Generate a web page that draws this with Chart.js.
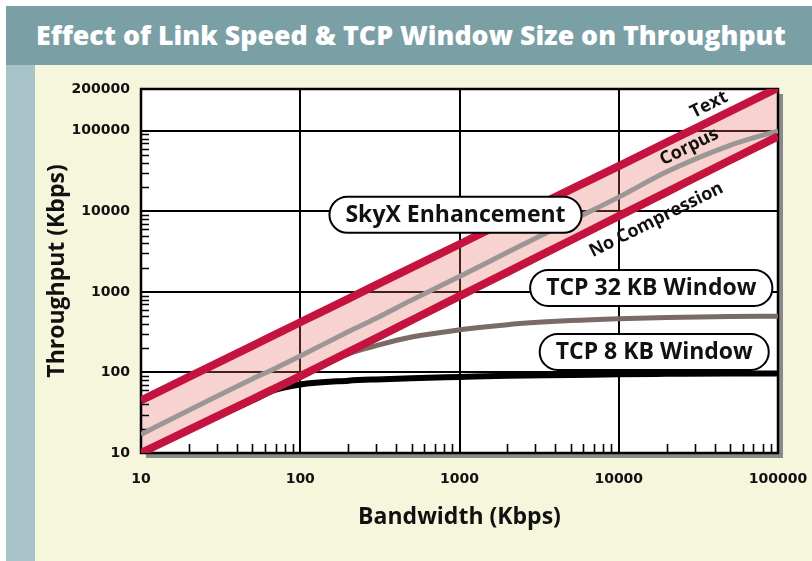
<!DOCTYPE html>
<html>
<head>
<meta charset="utf-8">
<script src="https://cdn.jsdelivr.net/npm/chart.js@4.4.0/dist/chart.umd.min.js"></script>
<style>
  html, body { margin: 0; padding: 0; background: #fff; }
  #page { position: relative; width: 812px; height: 561px; overflow: hidden; background: #fff; }
  #band { position: absolute; left: 6px; top: 6px; right: 0; height: 59px; background: #7aa0a6; }
  #strip { position: absolute; left: 6px; top: 65px; width: 29px; bottom: 0; background: #a7c3c8; }
  #cream { position: absolute; left: 35px; top: 65px; right: 0; bottom: 0; background: #f5f6dc; }
  #title { position: absolute; left: 36px; top: 22px; font: 800 26px 'Open Sans'; line-height: 26px;
           color: #fff; white-space: nowrap; transform-origin: 0 0; }
  canvas { position: absolute; left: 0; top: 0; }
</style>
</head>
<body>
<div id="page">
  <div id="band"></div>
  <div id="strip"></div>
  <div id="cream"></div>
  <div id="title">Effect of Link Speed &amp; TCP Window Size on Throughput</div>
  <canvas id="myChart" width="812" height="561"></canvas>
</div>
<script>
// Bandwidth (Kbps) and throughput (Kbps)
var bandwidth = [10, 20, 50, 70, 100, 200, 300, 500, 1000, 2000, 5000, 10000, 20000, 50000, 100000];
var textComp = [45, 88, 214, 297, 420, 820, 1220, 2000, 3900, 7700, 18700, 36500, 71600, 174000, 341000];
var noComp = [10, 19.4, 46.4, 64, 90, 179, 268, 445, 885, 1760, 4380, 8720, 17350, 43100, 85000];
var corpus = [17, 34, 83, 113, 160, 320, 472, 790, 1550, 3100, 7600, 15000, 31000, 66000, 100000];
var tcp32 = [10, 19.4, 46, 63, 88, 170, 215, 275, 338, 392, 440, 465, 482, 495, 500];
var tcp8 = [10, 19.4, 45, 61, 71, 79, 82, 85, 88, 91, 93, 95, 96, 97, 97];

// axes
var xTicks = [10, 100, 1000, 10000, 100000];
var yTicks = [10, 100, 1000, 10000, 100000];
var yTopLabel = '200000';   // label printed on the top edge of the frame
var yMax = 330000;          // where the frame top sits on the log scale

// callouts and line labels
var callouts = ['SkyX Enhancement', 'TCP 32 KB Window', 'TCP 8 KB Window'];
var calloutAt = [[944, 9060], [16000, 1120], [16700, 180]];
var lineLabels = ['Text', 'Corpus', 'No Compression'];
var lineLabelAt = [[36900, 210000], [27700, 63000], [17200, 7830]];

// title squeezed to the width of the original condensed face
var title = document.getElementById('title');
title.style.transform = 'scaleX(' + (750 / title.offsetWidth) + ')';

function pts(ys) {
    return bandwidth.map(function(b, i) { return {x: b, y: ys[i]}; });
}

var red = '#c4133f';
var tickFont = {family: 'DejaVu Sans', size: 14, weight: 'bold'};
var axisFont = {family: 'Open Sans', size: 23, weight: 'bold'};
var labelFont = 'bold 23px "Open Sans"';

var decor = {
    id: 'decor',
    beforeDraw: function(chart) {
        var ctx = chart.ctx, a = chart.chartArea;
        ctx.save();
        ctx.fillStyle = '#8a8a8a';
        ctx.fillRect(a.left + 5, a.top + 5, a.right - a.left, a.bottom - a.top);
        ctx.fillStyle = '#fff';
        ctx.fillRect(a.left, a.top, a.right - a.left, a.bottom - a.top);
        ctx.restore();
    },
    beforeDatasetsDraw: function(chart) {
        var ctx = chart.ctx, a = chart.chartArea, x = chart.scales.x, y = chart.scales.y;
        ctx.save();
        ctx.strokeStyle = '#000';
        ctx.lineWidth = 1.6;
        ctx.beginPath();
        for (var d = 10; d < 100000; d *= 10) {
            for (var m = 2; m <= 9; m++) {
                var px = Math.round(x.getPixelForValue(d * m)) + 0.5;
                ctx.moveTo(px, a.bottom);
                ctx.lineTo(px, a.bottom - 9);
                var py = Math.round(y.getPixelForValue(d * m)) + 0.5;
                ctx.moveTo(a.left, py);
                ctx.lineTo(a.left + 8, py);
            }
        }
        ctx.stroke();
        ctx.lineWidth = 2.5;
        ctx.strokeRect(a.left, a.top, a.right - a.left, a.bottom - a.top);
        ctx.restore();
    },
    afterDatasetsDraw: function(chart) {
        var ctx = chart.ctx, x = chart.scales.x, y = chart.scales.y;
        ctx.save();
        ctx.font = labelFont;
        ctx.textAlign = 'center';
        ctx.textBaseline = 'middle';
        callouts.forEach(function(t, i) {
            var cx = x.getPixelForValue(calloutAt[i][0]);
            var cy = y.getPixelForValue(calloutAt[i][1]);
            var w = ctx.measureText(t).width + 32, h = 36;
            ctx.beginPath();
            ctx.roundRect(cx - w / 2, cy - h / 2, w, h, h / 2);
            ctx.fillStyle = '#fff';
            ctx.fill();
            ctx.lineWidth = 2;
            ctx.strokeStyle = '#000';
            ctx.stroke();
            ctx.fillStyle = '#111';
            ctx.fillText(t, cx, cy + 1);
        });
        ctx.font = 'bold 18px "Open Sans"';
        lineLabels.forEach(function(t, i) {
            ctx.save();
            ctx.translate(x.getPixelForValue(lineLabelAt[i][0]), y.getPixelForValue(lineLabelAt[i][1]));
            ctx.rotate(-26.5 * Math.PI / 180);
            ctx.fillStyle = '#111';
            ctx.fillText(t, 0, 0);
            ctx.restore();
        });
        ctx.restore();
    }
};

var ctx = document.getElementById('myChart').getContext('2d');
var myChart = new Chart(ctx, {
    type: 'line',
    data: {
        datasets: [
            {label: 'Text', data: pts(textComp), borderColor: red, borderWidth: 8,
             fill: 1, backgroundColor: 'rgba(232, 105, 95, 0.3)'},
            {label: 'No Compression', data: pts(noComp), borderColor: red, borderWidth: 8, fill: false},
            {label: 'Corpus', data: pts(corpus), borderColor: '#9b9797', borderWidth: 5, fill: false},
            {label: 'TCP 32 KB Window', data: pts(tcp32), borderColor: '#7a6b66', borderWidth: 5, fill: false},
            {label: 'TCP 8 KB Window', data: pts(tcp8), borderColor: '#000', borderWidth: 6, fill: false}
        ]
    },
    options: {
        responsive: false,
        animation: false,
        devicePixelRatio: 1,
        layout: {padding: {left: 0, right: 34, top: 89, bottom: 0}},
        elements: {
            point: {radius: 0},
            line: {cubicInterpolationMode: 'monotone', borderCapStyle: 'butt'}
        },
        plugins: {
            legend: {display: false},
            tooltip: {enabled: false},
            filler: {drawTime: 'beforeDatasetsDraw'}
        },
        scales: {
            x: {
                type: 'logarithmic',
                min: 10,
                max: 100000,
                bounds: 'data',
                afterBuildTicks: function(s) {
                    s.ticks = xTicks.map(function(v) { return {value: v}; });
                },
                afterFit: function(s) {
                    s.height = 108;
                    s.paddingLeft = 0;
                    s.paddingRight = 0;
                },
                ticks: {
                    font: tickFont, color: '#111', padding: 18, maxRotation: 0,
                    callback: function(v) { return String(v); }
                },
                grid: {color: '#000', lineWidth: 2, drawTicks: false},
                border: {display: false},
                title: {
                    display: true, text: 'Bandwidth (Kbps)', color: '#111', font: axisFont,
                    padding: {top: 0, bottom: 30}
                }
            },
            y: {
                type: 'logarithmic',
                min: 10,
                max: yMax,
                bounds: 'data',
                afterBuildTicks: function(s) {
                    s.ticks = yTicks.map(function(v) { return {value: v}; });
                    s.ticks.push({value: yMax});
                },
                afterFit: function(s) {
                    s.width = 141;
                    s.paddingTop = 0;
                    s.paddingBottom = 0;
                },
                ticks: {
                    font: tickFont, color: '#111', padding: 11,
                    callback: function(v, i) { return i === yTicks.length ? yTopLabel : String(v); }
                },
                grid: {color: '#000', lineWidth: 2, drawTicks: false},
                border: {display: false},
                title: {
                    display: true, text: 'Throughput (Kbps)', color: '#111', font: axisFont,
                    padding: {top: 44, bottom: 0}
                }
            }
        }
    },
    plugins: [decor]
});
</script>
</body>
</html>
